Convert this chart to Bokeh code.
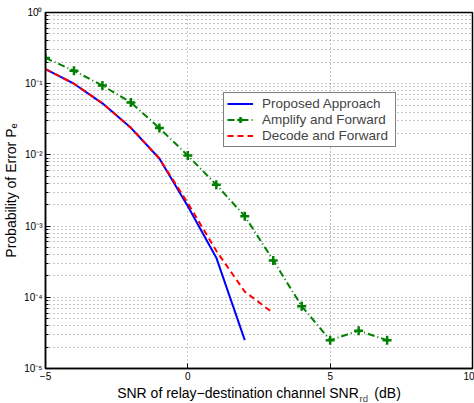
from bokeh.plotting import figure
from bokeh.models import FixedTicker, Legend, LegendItem, Label
from bokeh.embed import file_html
from bokeh.resources import INLINE

# SNR of the relay-destination channel (dB)
snr_proposed = [-5, -4, -3, -2, -1, 0, 1, 2]
pe_proposed = [0.16, 0.1, 0.053, 0.024, 0.0089, 0.0019, 3.6e-4, 2.5e-5]

snr_af = [-5, -4, -3, -2, -1, 0, 1, 2, 3, 4, 5, 6, 7]
pe_af = [0.23, 0.152, 0.094, 0.0545, 0.0238, 0.0098, 0.0038, 1.38e-3,
         3.3e-4, 7.5e-5, 2.5e-5, 3.4e-5, 2.5e-5]

snr_df = [-5, -4, -3, -2, -1, 0, 1, 2, 3]
pe_df = [0.16, 0.1, 0.053, 0.024, 0.0089, 0.0021, 4.5e-4, 1.2e-4, 6e-5]

x_ticks = [-5, 0, 5, 10]
x_tick_labels = ["\u22125", "0", "5", "10"]
y_ticks = [1e-5, 1e-4, 1e-3, 1e-2, 1e-1, 1.0]
y_tick_labels = ["10\u207b\u2075", "10\u207b\u2074", "10\u207b\u00b3",
                 "10\u207b\u00b2", "10\u207b\u00b9", "10\u2070"]
legend_labels = ["Proposed Approach", "Amplify and Forward", "Decode and Forward"]
x_title = "SNR of relay\u2212destination channel SNR" + "\u00a0" * 4 + "(dB)"
x_title_sub = "rd"
y_title = "Probability of Error P\u2091"

FONT = "Liberation Sans"
GRID = "#8a8a8a"

p = figure(width=474, height=403, x_range=(-5, 10), y_range=(1e-5, 1),
           y_axis_type="log", output_backend="svg", toolbar_location=None,
           min_border_left=43, min_border_right=2, min_border_top=12,
           min_border_bottom=35, background_fill_color="white",
           border_fill_color="white")
p.outline_line_color = "black"
p.outline_line_width = 1.5

minor = [m * 10.0 ** k for k in range(-5, 0) for m in range(2, 10)]
p.xaxis.ticker = FixedTicker(ticks=x_ticks)
p.xaxis.major_label_overrides = {t: s for t, s in zip(x_ticks, x_tick_labels)}
p.yaxis.ticker = FixedTicker(ticks=y_ticks, minor_ticks=minor)
p.yaxis.major_label_overrides = {t: s for t, s in zip(y_ticks, y_tick_labels)}

for ax in (p.xaxis, p.yaxis):
    ax.axis_line_color = "black"
    ax.axis_line_width = 1.5
    ax.major_tick_in = 5
    ax.major_tick_out = 0
    ax.minor_tick_in = 3
    ax.minor_tick_out = 0
    ax.major_tick_line_color = "black"
    ax.minor_tick_line_color = "black"
    ax.major_label_text_font = FONT
    ax.major_label_text_font_size = "10px"
    ax.major_label_text_color = "black"
    ax.major_label_standoff = 3
    ax.axis_label_text_font = FONT
    ax.axis_label_text_font_size = "14px"
    ax.axis_label_text_font_style = "normal"
    ax.axis_label_text_color = "black"
    ax.axis_label_standoff = 2

p.xaxis.axis_label = x_title
p.yaxis.axis_label = y_title

for g in (p.xgrid, p.ygrid):
    g.grid_line_color = GRID
    g.grid_line_dash = "1 3"
    g.grid_line_width = 1
p.ygrid.minor_grid_line_color = GRID
p.ygrid.minor_grid_line_dash = "1 3"
p.ygrid.minor_grid_line_width = 1

r_prop = p.line(snr_proposed, pe_proposed, line_color="blue", line_width=2)
r_af = p.line(snr_af, pe_af, line_color="green", line_width=2, line_dash="7 3 1 3")
r_af_m = p.scatter(snr_af, pe_af, marker="cross", size=9, line_color="green",
                   line_width=2.5)
r_df = p.line(snr_df, pe_df, line_color="red", line_width=2, line_dash="6 4")

legend = Legend(items=[
    LegendItem(label=legend_labels[0], renderers=[r_prop]),
    LegendItem(label=legend_labels[1], renderers=[r_af, r_af_m]),
    LegendItem(label=legend_labels[2], renderers=[r_df]),
], location=(178, 221))
legend.label_text_font = FONT
legend.label_text_font_size = "13.5px"
legend.label_height = 15
legend.glyph_height = 15
legend.glyph_width = 26
legend.label_width = 130
legend.label_standoff = 9
legend.spacing = 1
legend.padding = 3
legend.margin = 0
legend.border_line_color = "black"
legend.border_line_width = 1.5
legend.background_fill_alpha = 1
p.add_layout(legend, "center")

# subscript of the x-axis title
sub = Label(x=314, y=-386, x_units="screen", y_units="screen", text=x_title_sub,
            text_font=FONT, text_font_size="9.5px", text_baseline="middle",
            text_align="left")
p.add_layout(sub, "above")

open("out.html", "w").write(file_html(p, INLINE))
